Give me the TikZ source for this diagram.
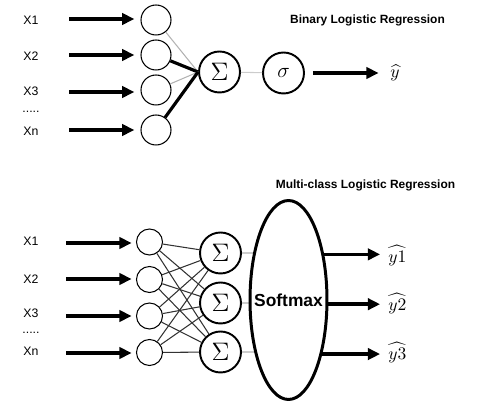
\documentclass[tikz,border=0pt]{standalone}
\usepackage{amsmath,amssymb,amsfonts}
\usepackage{fontspec}
\newfontfamily\arial{Liberation Sans}
\usetikzlibrary{arrows.meta,shapes.geometric}

\tikzset{
  neuron/.style={draw,circle,inner sep=0pt,line width=0.6pt},
  summer/.style={draw,circle,inner sep=0pt,minimum size=0.82cm,line width=1.1pt,font=\fontsize{14.5}{14.5}\selectfont},
  inlabel/.style={font=\arial\fontsize{7}{8}\selectfont},
  heading/.style={font=\arial\bfseries\fontsize{6.8}{8}\selectfont},
  fat/.style={line width=2pt,-{Triangle[length=7pt,width=6.5pt]}},
  faint/.style={line width=0.6pt,gray!60},
  pale/.style={line width=0.6pt,black!20},
  web/.style={line width=0.6pt,black!80},
  outlabel/.style={anchor=west,inner sep=0pt,font=\fontsize{10}{10}\selectfont}
}

\begin{document}
\begin{tikzpicture}[x=0.02cm,y=-0.02cm]
\useasboundingbox (0,0) rectangle (501,401);

% binary case
\node[heading] (bintitle) at (367.5,20.5) {Binary Logistic Regression};
\foreach \t/\y in {X1/20.5,X2/56,X3/91,Xn/131}
  \node[inlabel] (tx\t) at (31,\y) {\t};
\node[inlabel] (tdots) at (31,112) {.....};
\foreach \n/\y in {1/20,2/55,3/90,4/130}
  \node[neuron,minimum size=0.6cm] (in\n) at (156,\y) {};
\foreach \n/\y in {1/19,2/55,3/92,4/130} {
  \coordinate (ta\n) at (69,\y);
  \draw[fat,shorten >=3.5pt] (ta\n) -- (ta\n -| in\n.west);
}
\node[summer] (sum) at (219.5,72) {$\Sigma$};
\draw[faint] (in1) -- (sum.west);
\draw[line width=1.8pt] (in2) -- (sum.west);
\draw[faint] (in3) -- (sum.west);
\draw[line width=1.8pt] (in4) -- (sum.west);
\node[summer,font=\fontsize{12.5}{12.5}\selectfont] (sig) at (283.5,73) {$\sigma$};
\draw[pale] (sum) -- (sig);
\node[outlabel] (yhat) at (390,73) {$\widehat{y}$};
\draw[fat,shorten <=4.5pt,shorten >=6.5pt] (sig.east) -- (sig.east -| yhat.west);

% multi-class case
\node[heading] (multititle) at (365.5,185) {Multi-class Logistic Regression};
\foreach \t/\y in {X1/241,X2/279,X3/313,Xn/351}
  \node[inlabel] (bx\t) at (31,\y) {\t};
\node[inlabel] (bdots) at (31,333) {.....};
\foreach \n/\y in {1/242,2/279.5,3/316,4/352.5}
  \node[neuron,minimum size=0.52cm] (bi\n) at (149.5,\y) {};
\foreach \n/\y in {1/243,2/279,3/316,4/353} {
  \coordinate (tb\n) at (66,\y);
  \draw[fat,shorten >=2.5pt] (tb\n) -- (tb\n -| bi\n.west);
}
\foreach \n/\y in {1/253,2/303,3/352}
  \node[summer] (bs\n) at (220.5,\y) {$\Sigma$};
\foreach \i in {1,...,4}
  \foreach \j in {1,2,3}
    \draw[web] (bi\i) -- (bs\j);
\coordinate (sc) at (288.5,300);
\foreach \j in {1,2,3}
  \draw[pale] (bs\j) -- (bs\j -| sc);
\node[draw,ellipse,fill=white,line width=1.7pt,inner sep=0pt,
  minimum width=1.54cm,minimum height=3.98cm] (soft) at (sc) {};
\node[font=\arial\bfseries\fontsize{9.9}{10}\selectfont,inner sep=0pt] (softtxt) at (soft.center) {Softmax};
\node[outlabel] (o1) at (388,256) {$\widehat{y1}$};
\node[outlabel] (o2) at (388,304) {$\widehat{y2}$};
\node[outlabel] (o3) at (388,353) {$\widehat{y3}$};
\draw[fat,shorten >=4.5pt] (soft.52) -- (soft.52 -| o1.west);
\draw[fat,shorten >=4.5pt] (soft.-6) -- (soft.-6 -| o2.west);
\draw[fat,shorten >=4.5pt] (soft.-58) -- (soft.-58 -| o3.west);
\end{tikzpicture}
\end{document}
